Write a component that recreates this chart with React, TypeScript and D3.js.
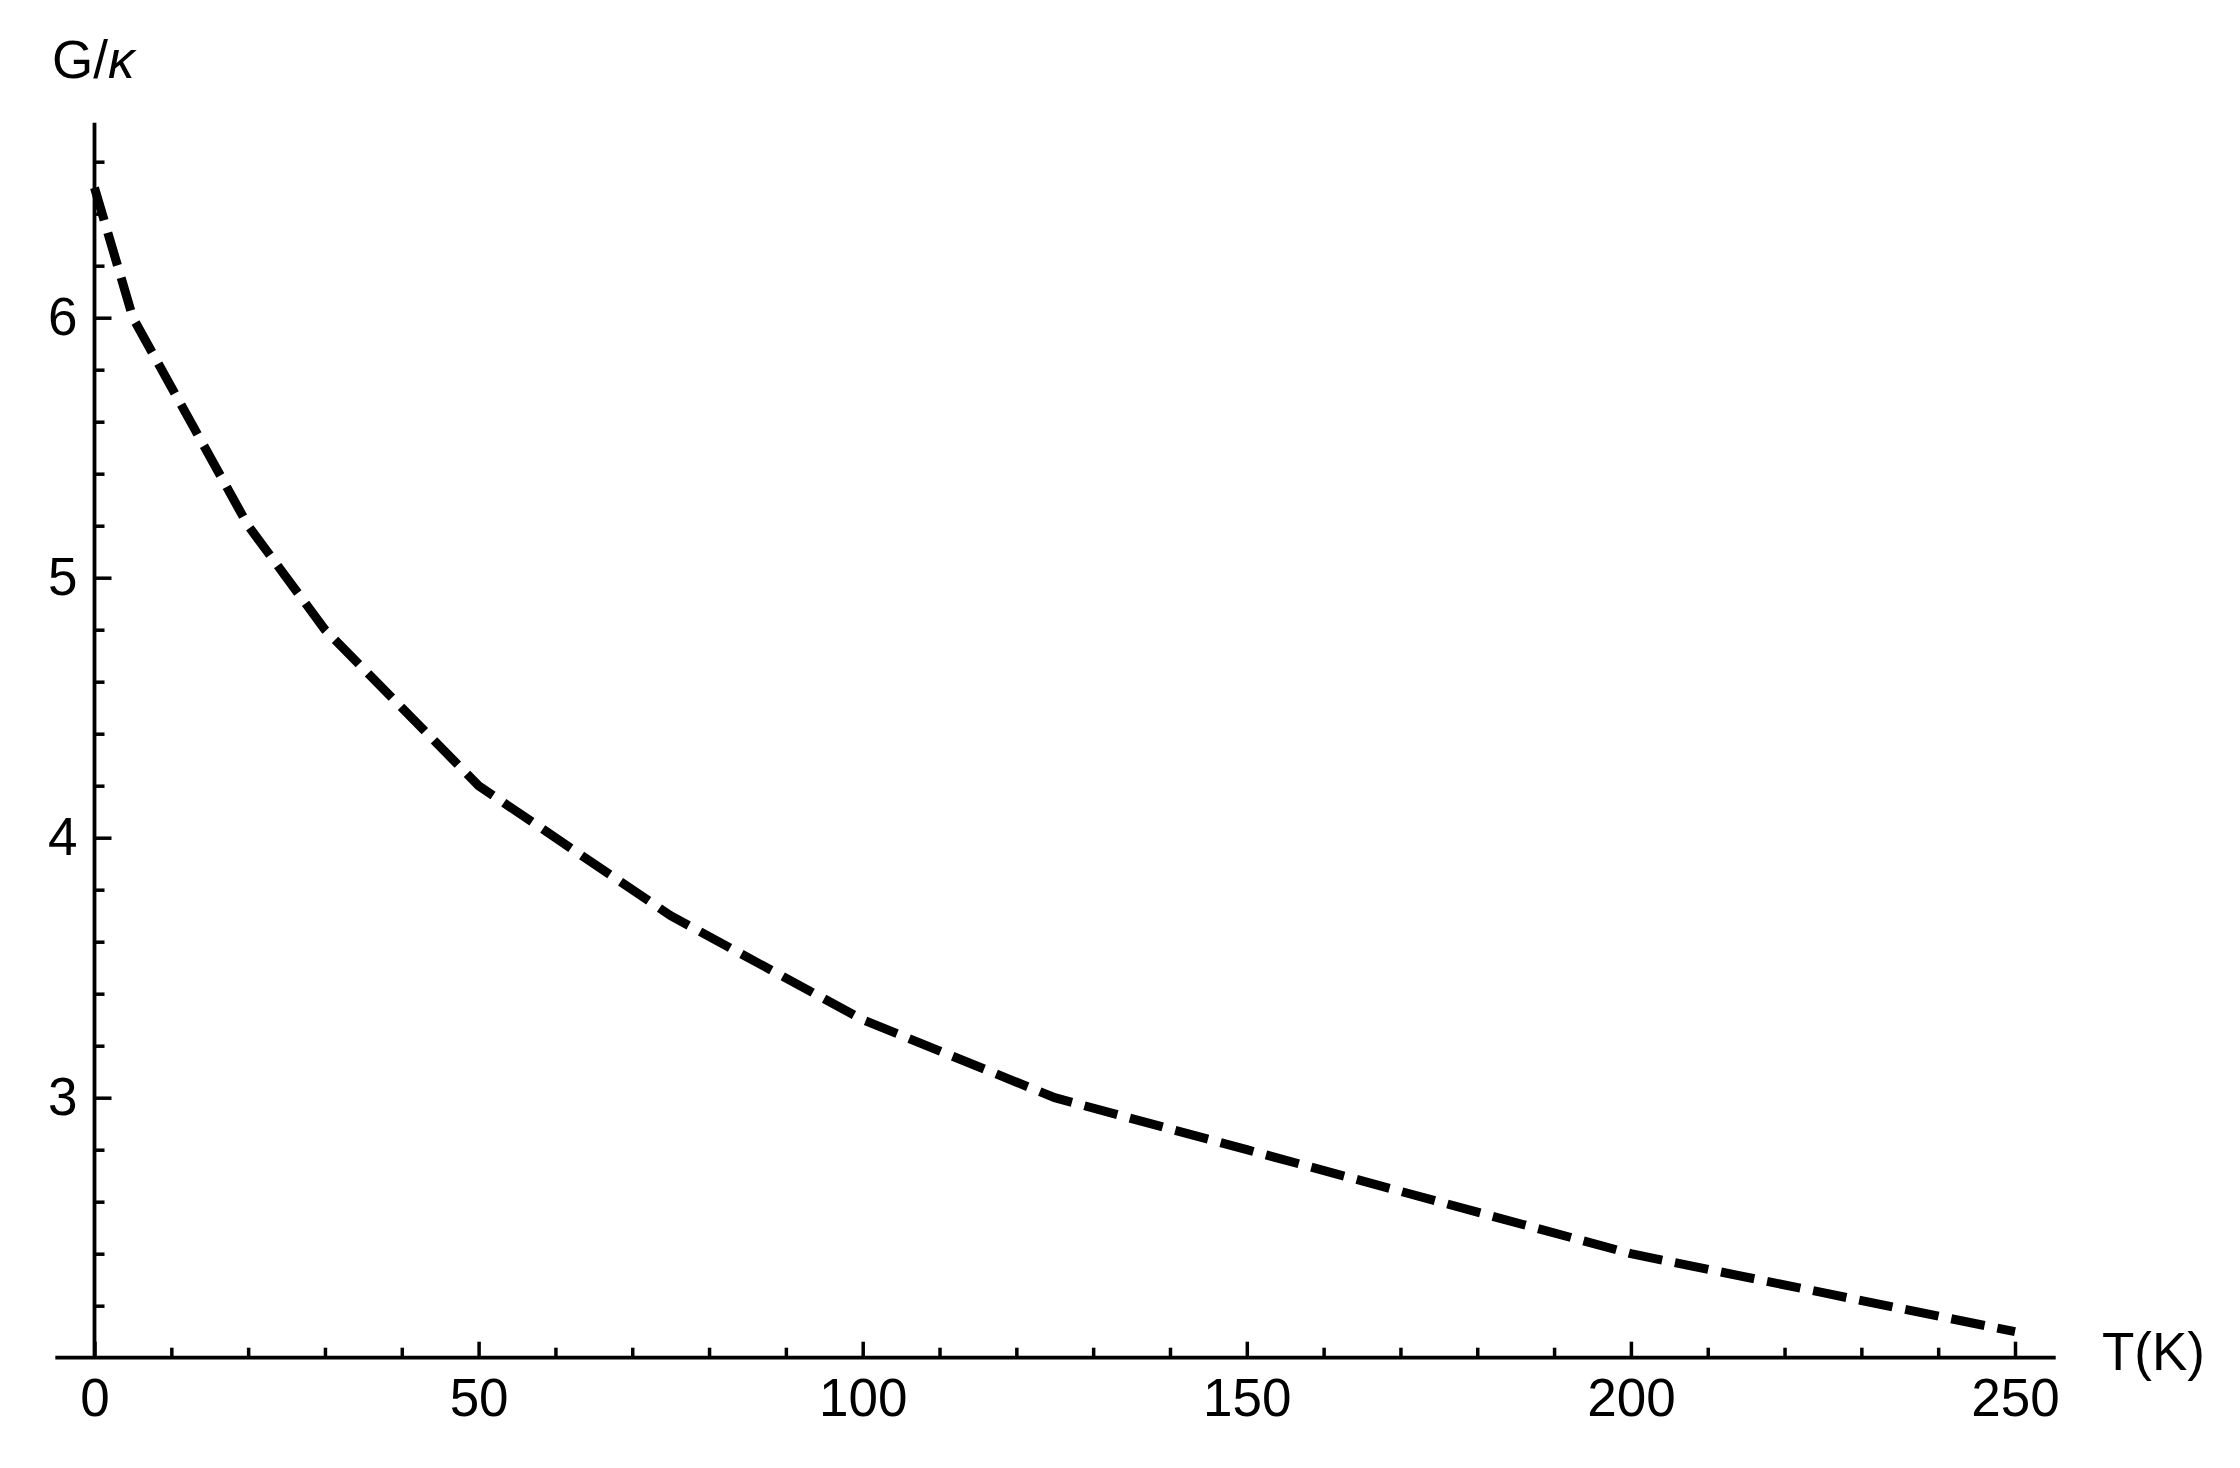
import React, { useEffect, useRef } from "react";
import * as d3 from "d3";

// data
const temps = [0, 5, 20, 30, 50, 75, 100, 125, 150, 175, 200, 225, 250];
const gValues = [6.5, 6.0, 5.2, 4.8, 4.2, 3.7, 3.3, 3.0, 2.8, 2.6, 2.4, 2.25, 2.1];
const xMajorTicks = [0, 50, 100, 150, 200, 250];
const xMinorTicks = d3.range(10, 250, 10).filter((t) => t % 50 !== 0);
const yMajorTicks = [3, 4, 5, 6];
const yMinorTicks = [2.2, 2.4, 2.6, 2.8, 3.2, 3.4, 3.6, 3.8, 4.2, 4.4, 4.6, 4.8, 5.2, 5.4, 5.6, 5.8, 6.2, 6.4, 6.6];

const App = () => {
	const svgRef = useRef<SVGSVGElement | null>(null);

	useEffect(() => {
		const width = 2240;
		const height = 1468;
		const font = "'Liberation Sans', Arial, sans-serif";
		const fontSize = "53px";

		const svg = d3.select(svgRef.current);
		svg.selectAll("*").remove();
		svg.attr("width", width).attr("height", height);

		const x = d3.scaleLinear().domain([0, 250]).range([94.5, 2015]);
		const y = d3.scaleLinear().domain([2, 6]).range([1357.7, 317.7]);

		const xMin = -5.1;
		const xMax = 255.3;
		const yMax = 6.75;

		// minor ticks on x
		svg
			.append("g")
			.attr("transform", `translate(0,${y(2)})`)
			.call(d3.axisBottom(x).tickValues(xMinorTicks).tickSize(-10).tickFormat(() => ""))
			.call((g) => g.select(".domain").remove())
			.call((g) => g.selectAll("line").attr("stroke", "#000").attr("stroke-width", 3.5));

		// major ticks + labels on x
		svg
			.append("g")
			.attr("transform", `translate(0,${y(2)})`)
			.call(
				d3
					.axisBottom(x)
					.tickValues(xMajorTicks)
					.tickSize(-16)
					.tickPadding(21)
					.tickFormat((d) => `${d}`)
			)
			.call((g) => g.select(".domain").remove())
			.call((g) => g.selectAll("line").attr("stroke", "#000").attr("stroke-width", 3.5))
			.call((g) =>
				g
					.selectAll("text")
					.attr("fill", "#000")
					.style("font-family", font)
					.style("font-size", fontSize)
			);

		// minor ticks on y
		svg
			.append("g")
			.attr("transform", `translate(${x(0)},0)`)
			.call(d3.axisLeft(y).tickValues(yMinorTicks).tickSize(-10).tickFormat(() => ""))
			.call((g) => g.select(".domain").remove())
			.call((g) => g.selectAll("line").attr("stroke", "#000").attr("stroke-width", 3.5));

		// major ticks + labels on y
		svg
			.append("g")
			.attr("transform", `translate(${x(0)},0)`)
			.call(
				d3
					.axisLeft(y)
					.tickValues(yMajorTicks)
					.tickSize(-17)
					.tickPadding(17)
					.tickFormat((d) => `${d}`)
			)
			.call((g) => g.select(".domain").remove())
			.call((g) => g.selectAll("line").attr("stroke", "#000").attr("stroke-width", 3.5))
			.call((g) =>
				g
					.selectAll("text")
					.attr("fill", "#000")
					.style("font-family", font)
					.style("font-size", fontSize)
			);

		// axis lines
		svg
			.append("line")
			.attr("x1", x(xMin))
			.attr("x2", x(xMax))
			.attr("y1", y(2))
			.attr("y2", y(2))
			.attr("stroke", "#000")
			.attr("stroke-width", 3.8);

		svg
			.append("line")
			.attr("x1", x(0))
			.attr("x2", x(0))
			.attr("y1", y(2))
			.attr("y2", y(yMax))
			.attr("stroke", "#000")
			.attr("stroke-width", 3.8);

		// dashed curve
		const points: [number, number][] = temps.map((t, i) => [t, gValues[i]]);
		const line = d3
			.line<[number, number]>()
			.x((d) => x(d[0]))
			.y((d) => y(d[1]));

		svg
			.append("path")
			.datum(points)
			.attr("d", line)
			.attr("fill", "none")
			.attr("stroke", "#000")
			.attr("stroke-width", 9)
			.attr("stroke-dasharray", "34 13")
			.attr("stroke-linecap", "butt")
			.attr("stroke-linejoin", "miter");

		// axis labels
		svg
			.append("text")
			.attr("x", 2102)
			.attr("y", 1370)
			.style("font-family", font)
			.style("font-size", fontSize)
			.attr("fill", "#000")
			.text("T(K)");

		const yLabel = svg
			.append("text")
			.attr("x", 52)
			.attr("y", 78)
			.style("font-family", font)
			.style("font-size", fontSize)
			.attr("fill", "#000");
		yLabel.append("tspan").text("G/");
		yLabel.append("tspan").style("font-style", "italic").text("κ");
	}, []);

	return (
		<div style={{ position: "absolute", left: 0, top: 0, background: "#fff" }}>
			<svg ref={svgRef} style={{ display: "block" }}></svg>
		</div>
	);
};

export default App;
